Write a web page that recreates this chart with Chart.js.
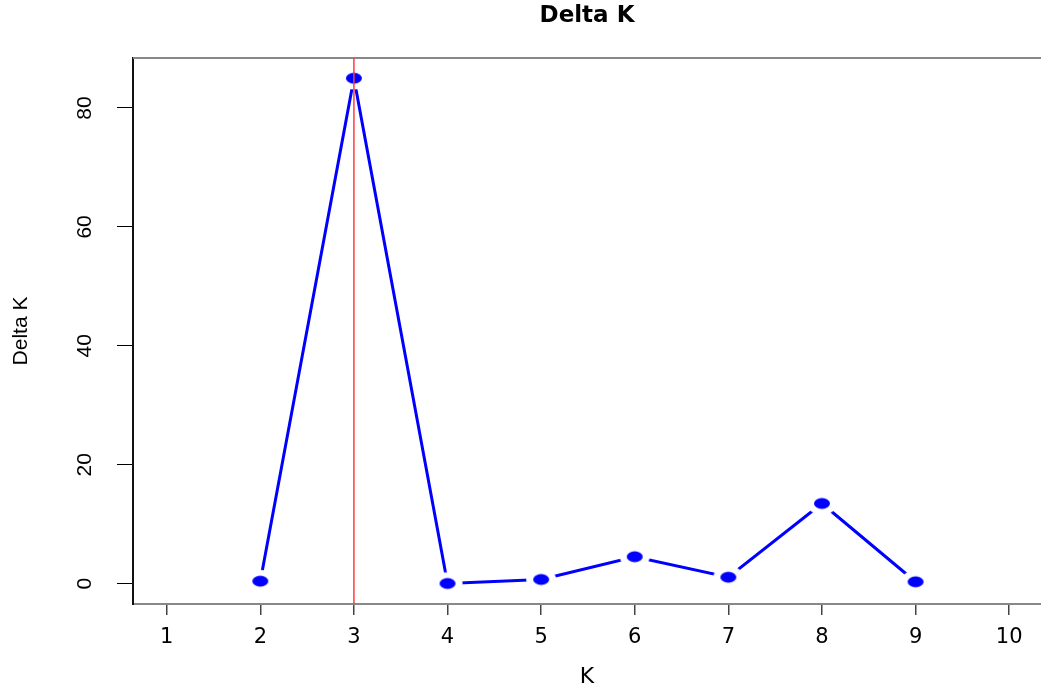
<!DOCTYPE html>
<html>
<head>
<meta charset="utf-8">
<script src="https://cdn.jsdelivr.net/npm/chart.js@4/dist/chart.umd.min.js"></script>
<style>
  html, body { margin: 0; padding: 0; background: #fff; overflow: hidden; }
  #wrap { width: 1041px; height: 693px; position: relative; }
  canvas { display: block; }
</style>
</head>
<body>
<div id="wrap"><canvas id="deltaChart"></canvas></div>
<script>
// values
const kValues = [2, 3, 4, 5, 6, 7, 8, 9];
const deltaK = [0.44, 85.0, 0.05, 0.72, 4.55, 1.1, 13.5, 0.34];
const bestK = [3];
const xTicks = [1, 2, 3, 4, 5, 6, 7, 8, 9, 10];
const yTicks = [0, 20, 40, 60, 80];
const xLimits = [0.64, 10.34];
const yLimits = [-3.4, 88.4];

// blue oval dot with a white ring round it, so the line stops short of each point
function makeDot() {
    const c = document.createElement('canvas');
    c.width = 32;
    c.height = 24;
    const g = c.getContext('2d');
    g.fillStyle = '#ffffff';
    g.beginPath();
    g.ellipse(16, 12, 15, 11.3, 0, 0, Math.PI * 2);
    g.fill();
    g.fillStyle = '#0000ff';
    g.beginPath();
    g.ellipse(16, 12, 8, 5.4, 0, 0, Math.PI * 2);
    g.fill();
    return c;
}

const topBorder = {
    id: 'topBorder',
    beforeDatasetsDraw(chart) {
        const a = chart.chartArea;
        const ctx = chart.ctx;
        ctx.save();
        ctx.strokeStyle = '#888888';
        ctx.lineWidth = 2;
        ctx.beginPath();
        ctx.moveTo(a.left, a.top);
        ctx.lineTo(a.right, a.top);
        ctx.stroke();
        ctx.restore();
    }
};

Chart.defaults.font.family = '"Liberation Sans", Arial, sans-serif';
Chart.defaults.color = '#000';

const ctx = document.getElementById('deltaChart').getContext('2d');
new Chart(ctx, {
    type: 'line',
    data: {
        datasets: [{
            label: 'best K',
            data: [{ x: bestK[0], y: yLimits[0] }, { x: bestK[0], y: yLimits[1] }],
            borderColor: '#ff3c3c',
            borderWidth: 1.5,
            pointRadius: 0,
            order: 0
        }, {
            label: 'Delta K',
            data: kValues.map((k, i) => ({ x: k, y: deltaK[i] })),
            borderColor: '#0000ff',
            borderWidth: 3,
            pointStyle: makeDot(),
            pointRadius: 8,
            tension: 0,
            order: 1
        }]
    },
    options: {
        responsive: true,
        maintainAspectRatio: false,
        animation: false,
        layout: { autoPadding: false, padding: { left: 0, right: 0, top: 0, bottom: 0 } },
        plugins: {
            legend: { display: false },
            tooltip: { enabled: false },
            title: {
                display: true,
                text: 'Delta K',
                fullSize: false,
                font: { family: '"DejaVu Sans", sans-serif', size: 23, weight: 'bold', lineHeight: 1.2 },
                color: '#000',
                padding: { top: 2, bottom: 28.4 }
            }
        },
        scales: {
            x: {
                type: 'linear',
                min: xLimits[0],
                max: xLimits[1],
                afterBuildTicks: s => { s.ticks = xTicks.map(v => ({ value: v })); },
                afterFit: s => { s.height = 89; s.paddingLeft = 0; s.paddingRight = 0; },
                grid: { drawOnChartArea: false, tickLength: 11, tickColor: '#444', lineWidth: 1.5 },
                border: { color: '#888888', width: 2 },
                ticks: {
                    font: { family: '"DejaVu Sans", sans-serif', size: 21 },
                    padding: 10,
                    maxRotation: 0,
                    color: '#000'
                },
                title: {
                    display: true,
                    text: 'K',
                    font: { family: '"DejaVu Sans", sans-serif', size: 22, lineHeight: 1.2 },
                    padding: { top: 0, bottom: 3 },
                    color: '#000'
                }
            },
            y: {
                type: 'linear',
                min: yLimits[0],
                max: yLimits[1],
                afterBuildTicks: s => { s.ticks = yTicks.map(v => ({ value: v })); },
                afterFit: s => { s.width = 133; },
                grid: { drawOnChartArea: false, tickLength: 16, tickColor: '#000', lineWidth: 1 },
                border: { color: '#111', width: 2 },
                ticks: {
                    font: { size: 21 },
                    minRotation: 90,
                    maxRotation: 90,
                    crossAlign: 'center',
                    padding: 20,
                    color: '#000'
                },
                title: {
                    display: true,
                    text: 'Delta K',
                    font: { size: 21, lineHeight: 1.2 },
                    padding: { top: 9, bottom: 0 },
                    color: '#000'
                }
            }
        }
    },
    plugins: [topBorder]
});
</script>
</body>
</html>
